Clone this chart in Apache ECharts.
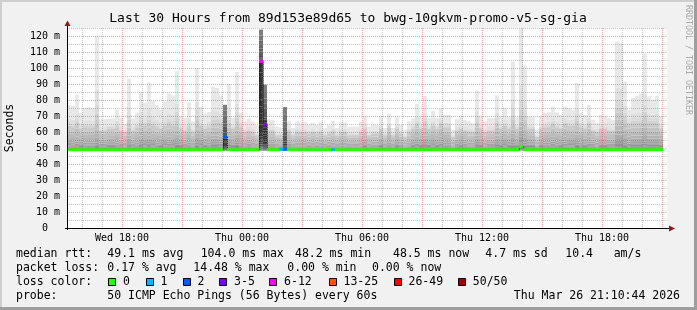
<!DOCTYPE html>
<html><head><meta charset="utf-8">
<script src="https://cdn.jsdelivr.net/npm/echarts@6.0.0/dist/echarts.min.js"></script>
<style>html,body{margin:0;padding:0;background:#f0f0f0}#c{width:697px;height:310px}</style>
</head><body><div id="c"></div>
<script>
// ---------------- data ----------------
const titleText = 'Last 30 Hours from 89d153e89d65 to bwg-10gkvm-promo-v5-sg-gia';
const axisStartMin = 915;   // Wed 15:15 (minutes since Wed 00:00)
const axisEndMin = 2715;    // Thu 21:15
const stepMin = 12;         // one smoke column = 12 minutes
const xTickValues = [1080, 1440, 1800, 2160, 2520];
const xTickLabels = ['Wed 18:00', 'Thu 00:00', 'Thu 06:00', 'Thu 12:00', 'Thu 18:00'];
const yTickValues = [0, 10, 20, 30, 40, 50, 60, 70, 80, 90, 100, 110, 120];
const yMax = 125;
const minRtt = 48.2;

const rttMax = [
  77, 76.5, 83.4, 72, 75, 75.6, 75, 120, 68, 68,
  68.3, 68.5, 74, 68.7, 65, 93.3, 68.5, 72, 84.8, 78.2,
  91, 79.2, 77, 74, 79, 84, 82.8, 98, 69.7, 68.7,
  78.4, 66.6, 100, 75.6, 71.5, 72.5, 88.5, 87.5, 83, 77,
  90, 69, 97.5, 72, 66.6, 68.3, 66.6, 63.9, 124, 89.6,
  68, 67.7, 63.4, 62.9, 75.6, 67, 62.5, 66.6, 65.6, 66.2,
  64.5, 65.6, 64.5, 66.6, 62.5, 64.2, 67, 62.5, 66.6, 66,
  63.4, 63.4, 63.4, 66.6, 69.8, 63.4, 64.5, 64.5, 70.3, 62.5,
  71.5, 62.5, 69.2, 64.5, 61.5, 66.6, 68.5, 77.7, 69.8, 82.6,
  68.7, 73.3, 68.7, 74.9, 70.8, 70.8, 61.5, 68, 70.3, 67.7,
  66.6, 65.6, 86, 69.8, 66.6, 68.7, 68.7, 83, 69.8, 74.9,
  69.2, 104, 69.2, 124.7, 101.6, 69.8, 69.2, 61.5, 69.8, 71.9,
  72.3, 76, 72.3, 70.8, 76, 74.9, 73.9, 90.6, 71.9, 70.8,
  77, 67.7, 65.6, 70.8, 69.8, 68.7, 67.7, 116.5, 115.4, 91.6,
  73.9, 81.2, 82.6, 84, 109, 82.3, 80.2, 82.6, 69.8
];
const rttUpper = [
  64, 63, 65, 62, 63, 63, 63, 68, 61, 61,
  62, 62, 63, 61, 60, 66, 61, 63, 66, 64,
  66, 64, 63, 62, 64, 65, 64, 67, 62, 61,
  63, 60, 68, 64, 62, 63, 66, 66, 65, 77,
  66, 62, 67, 63, 60, 61, 60, 58, 124, 89.6,
  61, 61, 58, 58, 75.6, 61, 58, 60, 60, 60,
  59, 60, 59, 60, 58, 59, 60, 58, 60, 60,
  58, 58, 58, 60, 62, 58, 59, 59, 62, 58,
  63, 58, 62, 59, 57, 60, 62, 65, 62, 66,
  62, 64, 62, 65, 63, 63, 57, 61, 62, 61,
  60, 60, 66, 62, 60, 61, 61, 66, 62, 64,
  62, 68, 62, 70, 68, 62, 62, 57, 62, 63,
  63, 65, 63, 62, 65, 64, 64, 67, 63, 62,
  65, 61, 60, 62, 62, 61, 61, 72, 72, 68,
  65, 66, 66, 66, 70, 66, 66, 66, 62
];
const rttMedian = [
  48.9, 48.9, 48.9, 48.9, 48.9, 48.9, 48.9, 48.9, 48.9, 48.9,
  48.9, 48.9, 48.9, 48.9, 48.9, 48.9, 48.9, 48.9, 48.9, 48.9,
  48.9, 48.9, 48.9, 48.9, 48.9, 48.9, 48.9, 48.9, 48.9, 48.9,
  48.9, 48.9, 48.9, 48.9, 48.9, 48.9, 48.9, 48.9, 48.9, 57,
  48.9, 48.9, 48.9, 48.9, 48.9, 48.9, 48.9, 48.9, 104, 64.6,
  48.9, 48.9, 48.9, 49.3, 49.3, 48.9, 48.9, 48.9, 48.9, 48.9,
  48.9, 48.9, 48.9, 48.9, 48.9, 48.9, 48.9, 48.9, 48.9, 48.9,
  48.9, 48.9, 48.9, 48.9, 48.9, 48.9, 48.9, 48.9, 48.9, 48.9,
  48.9, 48.9, 48.9, 48.9, 48.9, 48.9, 48.9, 48.9, 48.9, 48.9,
  48.9, 48.9, 48.9, 48.9, 48.9, 48.9, 48.9, 48.9, 48.9, 48.9,
  48.9, 48.9, 48.9, 48.9, 48.9, 48.9, 48.9, 48.9, 48.9, 48.9,
  48.9, 48.9, 48.9, 51, 48.9, 48.9, 48.9, 48.9, 48.9, 48.9,
  48.9, 48.9, 48.9, 48.9, 48.9, 48.9, 48.9, 48.9, 48.9, 48.9,
  48.9, 48.9, 48.9, 48.9, 48.9, 48.9, 48.9, 48.9, 48.9, 48.9,
  48.9, 48.9, 48.9, 48.9, 48.9, 48.9, 48.9, 48.9, 48.9
];
const lossPings = [
  0, 0, 0, 0, 0, 0, 0, 0, 0, 0,
  0, 0, 0, 0, 0, 0, 0, 0, 0, 0,
  0, 0, 0, 0, 0, 0, 0, 0, 0, 0,
  0, 0, 0, 0, 0, 0, 0, 0, 0, 2,
  0, 0, 0, 0, 0, 0, 0, 0, 7, 4,
  0, 0, 0, 1, 2, 0, 0, 0, 0, 0,
  0, 0, 0, 0, 0, 0, 1, 0, 0, 0,
  0, 0, 0, 0, 0, 0, 0, 0, 0, 0,
  0, 0, 0, 0, 0, 0, 0, 0, 0, 0,
  0, 0, 0, 0, 0, 0, 0, 0, 0, 0,
  0, 0, 0, 0, 0, 0, 0, 0, 0, 0,
  0, 0, 0, 0, 0, 0, 0, 0, 0, 0,
  0, 0, 0, 0, 0, 0, 0, 0, 0, 0,
  0, 0, 0, 0, 0, 0, 0, 0, 0, 0,
  0, 0, 0, 0, 0, 0, 0, 0, 0
];
const darkCols = [39, 48, 49, 54];

const lossLabels = ['0', '1', '2', '3-5', '6-12', '13-25', '26-49', '50/50'];
const lossColors = ['#26ff00', '#00b8ff', '#0059ff', '#7e00ff', '#ff00ff', '#ff5500', '#ff0000', '#a10000'];
const rttStats = ['49.1 ms avg', '104.0 ms max', '48.2 ms min', '48.5 ms now', '4.7 ms sd', '10.4', 'am/s'];
const lossStats = ['0.17 % avg', '14.48 % max', '0.00 % min', '0.00 % now'];
const probeText = '50 ICMP Echo Pings (56 Bytes) every 60s';
const dateText = 'Thu Mar 26 21:10:44 2026';

// ---------------- layout / style ----------------
const FONT = '"DejaVu Sans Mono", monospace';
const G = { left: 67, top: 28, width: 600, height: 200 };
const redGrid = 'rgba(255,70,70,0.55)';
const grayGrid = 'rgba(120,120,120,0.45)';

function grayHex(c) { const h = c.toString(16).padStart(2, '0'); return '#' + h + h + h; }
function smokeColor(k) { k = Math.min(25, k); return grayHex(Math.floor(190 / 25 * (25 - k)) + 50); }
function lossIndex(n) {
  if (n <= 0) return 0; if (n === 1) return 1; if (n === 2) return 2;
  if (n <= 5) return 3; if (n <= 12) return 4; if (n <= 25) return 5; if (n < 50) return 6; return 7;
}

const colData = rttMax.map((v, i) => [axisStartMin + i * stepMin, axisStartMin + (i + 1) * stepMin, v]);

function renderSmoke(params, api) {
  const i = params.dataIndex;
  const t0 = api.value(0), t1 = api.value(1);
  const M = rttMax[i], m = rttMedian[i];
  const a = Math.min(rttUpper[i], M);
  const s = darkCols.indexOf(i) >= 0 ? 10 : 0;
  const x0 = api.coord([t0, 0])[0], x1 = api.coord([t1, 0])[0];
  const yv = v => api.coord([t0, v])[1];
  const h = [];
  h[1] = M; h[2] = a + (M - a) * 0.35; h[3] = a + (M - a) * 0.18; h[4] = a + (M - a) * 0.07; h[5] = a;
  for (let k = 6; k <= 25; k++) h[k] = m + (a - m) * Math.pow((25 - k) / 20, 4);
  const children = [];
  for (let k = 1; k < 25; k++) {
    const top = yv(h[k]), bot = yv(h[k + 1]);
    if (bot - top <= 0.01) continue;
    children.push({ type: 'rect', shape: { x: x0, y: top, width: x1 - x0, height: bot - top }, style: { fill: smokeColor(k + s) } });
  }
  // lower half of the pings (min .. median)
  const lo = k => minRtt + (m - minRtt) * Math.pow((k - 1) / 24, 3);
  for (let k = 1; k < 25; k++) {
    const top = yv(lo(k + 1)), bot = yv(lo(k));
    if (bot - top <= 0.01) continue;
    children.push({ type: 'rect', shape: { x: x0, y: top, width: x1 - x0, height: bot - top }, style: { fill: smokeColor(k + s) } });
  }
  return { type: 'group', children };
}

function renderMedian(params, api) {
  const i = params.dataIndex;
  const t0 = api.value(0), t1 = api.value(1);
  const x0 = api.coord([t0, 0])[0], x1 = api.coord([t1, 0])[0];
  const m = rttMedian[i];
  const y = api.coord([t0, m])[1];
  const children = [];
  if (i > 0 && Math.abs(rttMedian[i - 1] - m) > 0.3) {
    const yp = api.coord([t0, rttMedian[i - 1]])[1];
    const xl = Math.round(x0) + 0.5;
    children.push({ type: 'line', shape: { x1: xl, y1: yp, x2: xl, y2: y }, style: { stroke: '#111', lineWidth: 1, lineDash: [1, 1] } });
  }
  children.push({ type: 'rect', shape: { x: x0, y: y - 1.5, width: x1 - x0, height: 3 }, style: { fill: lossColors[lossIndex(lossPings[i])] } });
  return { type: 'group', children };
}

const vGridData = [];
for (let t = 960; t <= 2700; t += 60) vGridData.push([t, 0, t % 180 === 0 ? 1 : 0]);
const hGridData = [];
for (let v = 5; v <= yMax; v += 5) hGridData.push([axisStartMin, v, v % 10 === 0 ? 1 : 0]);

function renderVGrid(params, api) {
  const t = api.value(0), major = api.value(2) === 1;
  const p0 = api.coord([t, 0]), p1 = api.coord([t, yMax]);
  const x = Math.round(p0[0]) + 0.5;
  return { type: 'line', silent: true, shape: { x1: x, y1: p1[1], x2: x, y2: p0[1] }, style: { stroke: major ? redGrid : grayGrid, lineWidth: 1, lineDash: [1, 1] } };
}
function renderHGrid(params, api) {
  const v = api.value(1), major = api.value(2) === 1;
  const p0 = api.coord([axisStartMin, v]), p1 = api.coord([axisEndMin, v]);
  const y = Math.round(p0[1]) + 0.5;
  return { type: 'line', silent: true, shape: { x1: p0[0], y1: y, x2: p1[0], y2: y }, style: { stroke: major ? redGrid : grayGrid, lineWidth: 1, lineDash: [1, 1] } };
}

// ---------------- graphic decorations ----------------
const gfx = [];
function txt(x, y, text, size, extra) {
  gfx.push(Object.assign({ type: 'text', x, y, silent: true,
    style: { text, fill: '#000', font: size + 'px ' + FONT, align: 'left', verticalAlign: 'middle' } }, extra || {}));
}
// frame
gfx.push({ type: 'rect', silent: true, z: -10, shape: { x: 0, y: 0, width: 697, height: 310 }, style: { fill: '#f1f1f1' } });
gfx.push({ type: 'rect', silent: true, z: -9, shape: { x: 0, y: 0, width: 697, height: 2 }, style: { fill: '#cfcfcf' } });
gfx.push({ type: 'rect', silent: true, z: -9, shape: { x: 0, y: 0, width: 2, height: 310 }, style: { fill: '#cfcfcf' } });
gfx.push({ type: 'rect', silent: true, z: -9, shape: { x: 0, y: 307, width: 697, height: 3 }, style: { fill: '#9e9e9e' } });
gfx.push({ type: 'rect', silent: true, z: -9, shape: { x: 694, y: 0, width: 3, height: 310 }, style: { fill: '#9e9e9e' } });
gfx.push({ type: 'rect', silent: true, z: -8, shape: { x: G.left, y: G.top, width: G.width, height: G.height }, style: { fill: '#ffffff' } });
// axes + arrows
const axB = G.top + G.height;
gfx.push({ type: 'line', silent: true, z: 50, shape: { x1: G.left - 2, y1: axB + 0.5, x2: G.left + G.width + 4, y2: axB + 0.5 }, style: { stroke: '#000', lineWidth: 1 } });
gfx.push({ type: 'line', silent: true, z: 50, shape: { x1: G.left + 0.5, y1: axB + 2, x2: G.left + 0.5, y2: G.top - 4 }, style: { stroke: '#000', lineWidth: 1 } });
gfx.push({ type: 'polygon', silent: true, z: 51, shape: { points: [[G.left - 2.5, G.top - 2], [G.left + 3.5, G.top - 2], [G.left + 0.5, G.top - 7.5]] }, style: { fill: '#9b1414' } });
gfx.push({ type: 'polygon', silent: true, z: 51, shape: { points: [[G.left + G.width + 2, axB - 2.5], [G.left + G.width + 2, axB + 3.5], [G.left + G.width + 8, axB + 0.5]] }, style: { fill: '#9b1414' } });
// titles
gfx.push({ type: 'text', x: 348, y: 19, silent: true, style: { text: titleText, fill: '#000', font: '13px ' + FONT, align: 'center', verticalAlign: 'middle' } });
gfx.push({ type: 'text', x: 10, y: 128, rotation: Math.PI / 2, silent: true, style: { text: 'Seconds', fill: '#000', font: '11.5px ' + FONT, align: 'center', verticalAlign: 'middle' } });
gfx.push({ type: 'text', x: 688, y: 60, rotation: -Math.PI / 2, silent: true, style: { text: 'RRDTOOL / TOBI OETIKER', fill: '#aaaaaa', font: '8.3px ' + FONT, align: 'center', verticalAlign: 'middle' } });
// legend lines
const LF = 11.5;
const rowY = [254, 268, 282, 296];
txt(16, rowY[0], 'median rtt:', LF);
[107.3, 200.7, 295, 393, 485.3, 565.3, 613.7].forEach((x, j) => txt(x, rowY[0], rttStats[j], LF));
txt(16, rowY[1], 'packet loss:', LF);
[107.3, 193.3, 287.3, 372].forEach((x, j) => txt(x, rowY[1], lossStats[j], LF));
txt(16, rowY[2], 'loss color:', LF);
const boxX = [108.3, 145.7, 182.7, 219.3, 269.3, 328.7, 393.7, 458];
lossLabels.forEach((lab, j) => {
  gfx.push({ type: 'rect', silent: true, shape: { x: Math.round(boxX[j]) + 0.5, y: rowY[2] - 3.5, width: 7, height: 7 }, style: { fill: lossColors[j], stroke: '#000', lineWidth: 1 } });
  txt(boxX[j] + 14.8, rowY[2], lab, LF);
});
txt(16, rowY[3], 'probe:', LF);
txt(107.3, rowY[3], probeText, LF);
gfx.push({ type: 'text', x: 680, y: rowY[3], silent: true, style: { text: dateText, fill: '#000', font: LF + 'px ' + FONT, align: 'right', verticalAlign: 'middle' } });

// ---------------- chart ----------------
const chart = echarts.init(document.getElementById('c'), null, { renderer: 'canvas' });
chart.setOption({
  animation: false,
  backgroundColor: 'transparent',
  grid: { left: G.left, top: G.top, width: G.width, height: G.height, containLabel: false },
  xAxis: {
    type: 'value', min: axisStartMin, max: axisEndMin,
    axisLine: { show: false }, axisTick: { show: false }, splitLine: { show: false },
    axisLabel: { customValues: xTickValues, formatter: v => xTickLabels[xTickValues.indexOf(v)] || '',
      fontFamily: FONT, fontSize: 10, color: '#000', margin: 5 }
  },
  yAxis: {
    type: 'value', min: 0, max: yMax,
    axisLine: { show: false }, axisTick: { show: false }, splitLine: { show: false },
    axisLabel: { customValues: yTickValues, formatter: v => v === 0 ? '0  ' : v + ' m',
      fontFamily: FONT, fontSize: 10, color: '#000', margin: 7 }
  },
  graphic: { elements: gfx },
  series: [
    { type: 'custom', name: 'smoke', z: 2, data: colData, encode: { x: [0, 1], y: 2 }, renderItem: renderSmoke, silent: true },
    { type: 'custom', name: 'vgrid', z: 3, data: vGridData, encode: { x: 0, y: 1 }, renderItem: renderVGrid, silent: true },
    { type: 'custom', name: 'hgrid', z: 3, data: hGridData, encode: { x: 0, y: 1 }, renderItem: renderHGrid, silent: true },
    { type: 'custom', name: 'median', z: 4, data: colData, encode: { x: [0, 1], y: 2 }, renderItem: renderMedian, silent: true }
  ]
});
</script></body></html>
